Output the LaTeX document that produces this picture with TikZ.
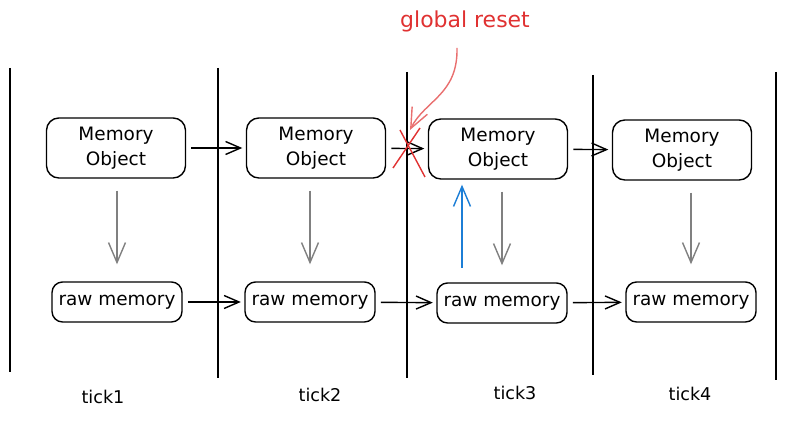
\documentclass[tikz,border=0pt]{standalone}
\usepackage{fontspec}
\setmainfont{DejaVu Sans}
\usetikzlibrary{positioning, arrows.meta}

\definecolor{resetred}{RGB}{224,49,49}
\definecolor{upblue}{RGB}{28,126,214}

\tikzset{
  membox/.style={rectangle, rounded corners=7pt, draw, thick, minimum width=2.78cm, minimum height=1.2cm, align=center, font=\fontsize{10.5}{14}\selectfont},
  rawbox/.style={rectangle, rounded corners=6pt, draw, thick, inner xsep=1pt, minimum width=2.6cm, minimum height=0.8cm, font=\fontsize{10.5}{13}\selectfont},
  flow/.style={-{Straight Barb[length=3mm, width=2.6mm]}, thick, shorten <=3pt, shorten >=2pt},
  down/.style={-{Straight Barb[length=4mm, width=3.4mm]}, gray, thick, shorten <=0.24cm, shorten >=0.34cm}
}

\begin{document}
\begin{tikzpicture}[x=0.02cm, y=-0.02cm]
\useasboundingbox (0,0) rectangle (787,421);

%Time lines
\draw[semithick] (10,68) -- (10,372);
\draw[semithick] (218,68) -- (218,378);
\draw[semithick] (407,72) -- (407,378);
\draw[semithick] (593,75) -- (593,375);
\draw[semithick] (776,72) -- (776,380);

%Nodes
\node (M1) at (116,148) [membox] {Memory\\Object};
\node (M2) at (316,148) [membox] {Memory\\Object};
\node (M3) at (498,149) [membox] {Memory\\Object};
\node (M4) at (682,150) [membox] {Memory\\Object};

\node (R1) at (117,302) [rawbox] {raw memory};
\node (R2) at (310,302) [rawbox] {raw memory};
\node (R3) at (502,303) [rawbox] {raw memory};
\node (R4) at (691,302) [rawbox] {raw memory};

\draw[flow] (M1) to (M2);
\draw[flow] (M2) to (M3);
\draw[flow] (M3) to (M4);

\draw[flow] (R1) to (R2);
\draw[flow] (R2) to (R3);
\draw[flow] (R3) to (R4);

\draw[down] (R1.north |- M1.south) to (R1.north);
\draw[down] (R2.north |- M2.south) to (R2.north);
\draw[down] (R3.north |- M3.south) to (R3.north);
\draw[down] (R4.north |- M4.south) to (R4.north);

%Reset
\coordinate (U) at (462,268);
\draw[-{Straight Barb[length=4mm, width=3.4mm]}, upblue, thick, shorten >=0.1cm] (U) to (U |- M3.south);

\node (G) at (465,21) [text=resetred, font=\fontsize{12.5}{15}\selectfont] {global reset};
\coordinate (X) at (410,130);
\draw[resetred, thick] (400,130) -- (425,177);
\draw[resetred, thick] (420,128) -- (393,168);
\draw[-{Straight Barb[length=4mm, width=3.4mm]}, resetred!70, thick] (G.south) ++(-8,10) .. controls (458,95) and (425,100) .. (X);

%Labels
\node (T1) at (103,397) {tick1};
\node (T2) at (320,395) {tick2};
\node (T3) at (515,393) {tick3};
\node (T4) at (690,394) {tick4};

\end{tikzpicture}
\end{document}
